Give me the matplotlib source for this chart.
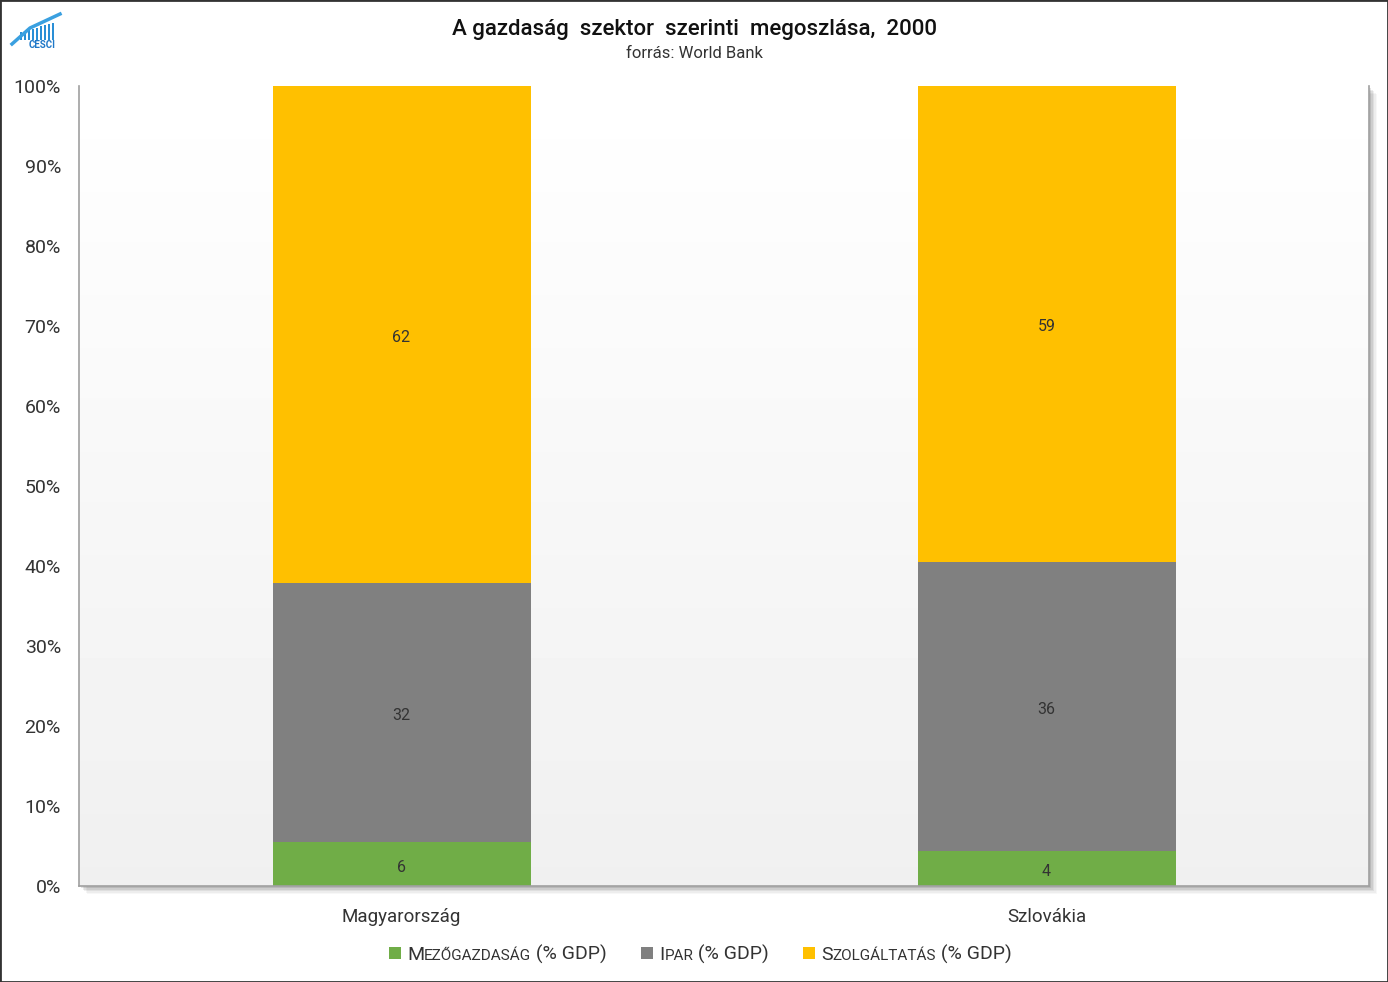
import numpy as np
import matplotlib.pyplot as plt
from matplotlib.patches import Rectangle
from matplotlib.ticker import FuncFormatter

orszagok = ['Magyarország', 'Szlovákia']
mezogazdasag = [5.5, 4.4]
ipar = [32.4, 36.1]
szolgaltatas = [62.1, 59.4]
sorozatok = ['Mezőgazdaság', 'Ipar', 'Szolgáltatás']
szinek = ['#70ad47', '#808080', '#ffc000']

W, H = 1388, 982
plt.rcParams['font.family'] = ['Roboto', 'DejaVu Sans']

fig = plt.figure(figsize=(W / 100, H / 100), dpi=100)
# tengely helye pixelben (bal, felso, jobb, also)
L, T, R, B = 79, 86, 1369, 886
ax = fig.add_axes([L / W, 1 - B / H, (R - L) / W, (B - T) / H])
ax.set_zorder(2)
ax.patch.set_visible(False)

# arnyek a tengely korul
for i, a in enumerate([0.10, 0.08, 0.06, 0.04, 0.03]):
    d = 2 + i * 1.5
    fig.patches.append(Rectangle(((L + d) / W, 1 - (B + d) / H), (R - L) / W, (B - T) / H,
                                 transform=fig.transFigure, color='black', alpha=a, lw=0, zorder=0))
fig.patches.append(Rectangle((L / W, 1 - B / H), (R - L) / W, (B - T) / H,
                             transform=fig.transFigure, color='white', lw=0, zorder=0.5))

# szurke atmenet a hatterben
grad = np.linspace(1.0, 0.94, 256).reshape(-1, 1)
ax.imshow(grad, aspect='auto', cmap='gray', vmin=0, vmax=1, extent=[-0.5, 1.5, 0, 1.0],
          origin='upper', zorder=0)

x = np.arange(len(orszagok))
adatok = [mezogazdasag, ipar, szolgaltatas]
osszeg = np.sum(adatok, axis=0)
also = np.zeros(len(orszagok))
for ertek, szin in zip(adatok, szinek):
    ertek = np.array(ertek)
    arany = ertek / osszeg
    ax.bar(x, arany, 0.4, bottom=also, color=szin, zorder=2)
    for xi, b, h, v in zip(x, also, arany, ertek):
        ax.annotate('%.0f' % v, (xi, b + h / 2), xytext=(0, -3), textcoords='offset pixels',
                    ha='center', va='center', fontsize=11.5, color='#333333', zorder=3)
    also += arany

ax.set_xlim(-0.5, 1.5)
ax.set_ylim(0, 1)
ax.set_xticks(x)
ax.set_xticklabels(orszagok, fontsize=13.5, color='#333333')
ax.set_yticks(np.linspace(0, 1, 11))
ax.yaxis.set_major_formatter(FuncFormatter(lambda v, p: '%d%%' % round(v * 100)))
ax.tick_params(axis='y', length=0, pad=13, labelsize=14, labelcolor='#333333')
ax.tick_params(axis='x', length=0, pad=16)
for s in ['left', 'bottom', 'right']:
    ax.spines[s].set_color('#a0a0a0')
    ax.spines[s].set_linewidth(1.2)
ax.spines['top'].set_visible(False)

fig.text(0.5, 1 - 30 / H, 'A gazdaság  szektor  szerinti  megoszlása,  2000', ha='center', va='center',
         fontsize=16, color='#111111', fontweight='medium')
fig.text(0.5, 1 - 54 / H, 'forrás: World Bank', ha='center', va='center', fontsize=12, color='#333333')

# logo
lx = [20, 24, 28, 32, 36, 40, 44, 48, 52]
lh = [8, 9, 10, 11, 12, 14, 15, 16, 17]
for px, hh in zip(lx, lh):
    fig.patches.append(Rectangle((px / W, 1 - 40 / H), 2 / W, hh / H, transform=fig.transFigure,
                                 color='#2a8fd6', lw=0))
fig.text(42 / W, 1 - 45 / H, 'CESCI', ha='center', va='center', fontsize=7, color='#1f78c8',
         fontweight='bold')
fig.lines.append(plt.Line2D([12 / W, 30 / W, 60 / W], [1 - 44 / H, 1 - 28 / H, 1 - 14 / H],
                            transform=fig.transFigure, color='#3aa0e0', lw=2.5))

# jelmagyarazat kiskapitalis betukkel
fig.canvas.draw()
rend = fig.canvas.get_renderer()
ly = 1 - 960 / H
px = 389
for nev, szin in zip(sorozatok, szinek):
    fig.patches.append(Rectangle((px / W, 1 - 959 / H), 12 / W, 12 / H, transform=fig.transFigure,
                                 color=szin, lw=0))
    px += 18
    darabok = [(nev[0].upper(), 14), (nev[1:].upper(), 11), (' (% GDP)', 14)]
    for s, fs in darabok:
        t = fig.text(px / W, ly, s, ha='left', va='baseline', fontsize=fs, color='#333333')
        px = t.get_window_extent(rend).x1
    px += 34

fig.patches.append(Rectangle((0, 0), 1, 1, transform=fig.transFigure, fill=False,
                             edgecolor='#333333', lw=2, zorder=10))

fig.savefig('out.png', dpi=100)
